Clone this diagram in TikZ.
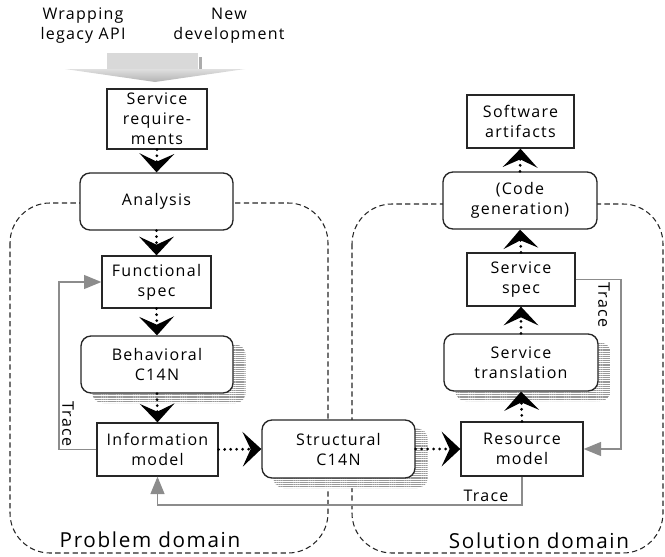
\documentclass[tikz,border=0pt]{standalone}
\usepackage{fontspec}
\setmainfont{Open Sans}[LetterSpace=8]
\usetikzlibrary{arrows.meta,backgrounds,patterns.meta,calc}
\definecolor{tracegray}{HTML}{8C8C8C}
\tikzset{
  basebox/.style={draw=black!85, line width=1pt, fill=white, align=center, inner sep=0pt,
    font=\fontsize{12}{15}\selectfont},
  sqbox/.style={basebox},
  rbox/.style={basebox, rounded corners=7.5pt},
  flow/.style={line width=2.3pt, dash pattern=on 0pt off 4.5pt, line cap=round,
    -{Stealth[length=14pt,width=26pt,inset=6pt]}},
  trace/.style={draw=tracegray, line width=0.9pt,
    -{Triangle[length=13pt,width=10.5pt,fill=tracegray]}},
  domainbox/.style={draw=black!85, line width=0.8pt, dash pattern=on 4pt off 2.5pt, rounded corners=30pt},
  shadowbox/.style={preaction={fill=white}, pattern={Lines[angle=0,distance=1.6pt,line width=0.85pt]},
    pattern color=gray!80, rounded corners=7.5pt},
  lbl/.style={font=\fontsize{12}{15}\selectfont, align=center, inner sep=0pt},
  domlbl/.style={font=\fontsize{15.5}{18}\selectfont, inner sep=0pt},
}
\begin{document}
\begin{tikzpicture}[x=0.75pt,y=-0.75pt]
\useasboundingbox (0,0) rectangle (665,557);

% top labels
\node[lbl] (legacy) at (83,26) {Wrapping\\legacy API};
\node[lbl] (newdev) at (229,26) {New\\development};

% big grey input arrow
\fill[gray!30] (107,53) rectangle (198,70);
\fill[gray!65] (199,57) rectangle (202,69);
\shade[top color=gray!25,bottom color=gray!60] (65,69) -- (245,69) -- (155,82) -- cycle;

% boxes
\node[sqbox, minimum width=75pt, minimum height=45pt] (sreq) at (157,119) {Service\\require-\\ments};
\node[rbox, minimum width=114.75pt, minimum height=42.75pt] (analysis) at (156.5,201.5) {Analysis};
\node[sqbox, minimum width=81.75pt, minimum height=39pt] (func) at (156.5,282) {Functional\\spec};
\node[rbox, minimum width=114pt, minimum height=42.75pt] (behav) at (157,364.5) {Behavioral\\C14N};
\node[sqbox, minimum width=90.75pt, minimum height=39.75pt] (info) at (157.5,449.5) {Information\\model};
\node[rbox, minimum width=114.75pt, minimum height=43.5pt] (struct) at (338.5,449) {Structural\\C14N};
\node[sqbox, minimum width=91.5pt, minimum height=40.5pt] (res) at (522,449) {Resource\\model};
\node[rbox, minimum width=115.5pt, minimum height=42.75pt] (trans) at (521,362.5) {Service\\translation};
\node[sqbox, minimum width=81pt, minimum height=39.75pt] (sspec) at (521,279.5) {Service\\spec};
\node[rbox, minimum width=115.5pt, minimum height=42.75pt] (codegen) at (520,200.5) {(Code\\generation)};
\node[sqbox, minimum width=80.25pt, minimum height=39.75pt] (art) at (520.5,121.5) {Software\\artifacts};

% domains and shadows behind
\begin{scope}[on background layer]
\draw[domainbox] (10,203) rectangle (328,553);
\draw[domainbox] (352,204) rectangle (663,553);
\foreach \b in {behav,struct,trans}{
  \path[shadowbox] ([xshift=9pt,yshift=-7pt]\b.south west) rectangle ([xshift=9pt,yshift=-7pt]\b.north east);
}
\end{scope}

% domain labels
\node[domlbl] (problbl) at (150,540) {Problem domain};
\node[domlbl] (sollbl) at (539,541) {Solution domain};

% flow connectors
\draw[flow] (sreq.south) -- (analysis.north);
\draw[flow] (analysis.south) -- (func.north);
\draw[flow] (func.south) -- (behav.north);
\draw[flow] (behav.south) -- (info.north);
\draw[flow] (info.east) -- (struct.west);
\draw[flow] (struct.east) -- (res.west);
\draw[flow] (res.north) -- (trans.south);
\draw[flow] (trans.north) -- (sspec.south);
\draw[flow] (sspec.north) -- (codegen.south);
\draw[flow] (codegen.north) -- (art.south);

% trace connectors
\coordinate (tl) at (59,0);
\coordinate (tr) at (621,0);
\coordinate (tb) at (0,505);
\draw[trace] (info.west) -- (info.west -| tl) |- (func.west);
\draw[trace] (sspec.east) -- (sspec.east -| tr) |- (res.east);
\draw[trace] (res.south) -- (res.south |- tb) -| (info.south);

\node[lbl, rotate=-90] (trl) at (68,424) {Trace};
\node[lbl, rotate=-90] (trr) at (604,305) {Trace};
\node[lbl] (trb) at (486,496) {Trace};
\end{tikzpicture}
\end{document}
